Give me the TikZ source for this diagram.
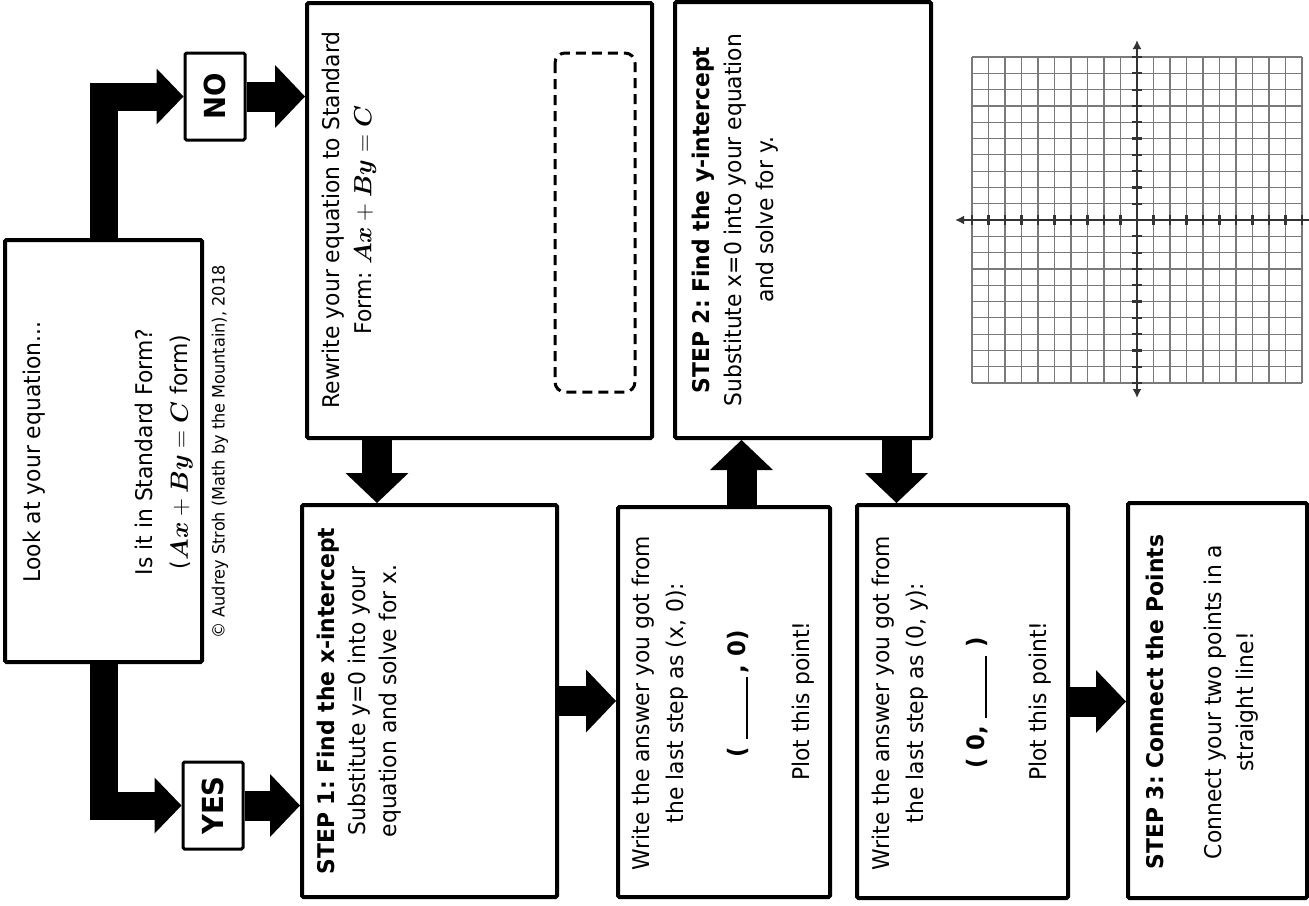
\documentclass[tikz,border=0pt]{standalone}
\usepackage{fontspec}
\setmainfont[FakeStretch=0.95]{DejaVu Sans}
\usepackage{bm}
\usetikzlibrary{arrows.meta}
\frenchspacing
\tikzset{
  box/.style={draw, line width=4pt, rounded corners=1.5pt, inner sep=0pt, fill=white},
  lab/.style={draw, line width=3pt, rounded corners=1.5pt, inner sep=0pt, fill=white,
    font=\fontsize{29}{29}\selectfont\bfseries, text=black},
  txt/.style={rotate=90, align=center, inner sep=0pt, font=\fontsize{23}{32}\selectfont},
  fat/.style={line width=30pt, line join=miter, -{Triangle[length=30pt,width=63pt,line width=0pt]}},
  fatL/.style={line width=28pt, line join=miter, -{Triangle[length=27pt,width=56pt,line width=0pt]}},
  gridline/.style={draw=black!52, line width=1.2pt},
  axis/.style={draw=black!80, line width=2.2pt},
  dashbox/.style={draw, line width=3pt, dash pattern=on 10pt off 6pt, rounded corners=10pt}
}
\begin{document}
\begin{tikzpicture}[x=1pt,y=-1pt]
\useasboundingbox (0,0) rectangle (1309,905);
% boxes
\node[box, minimum width=197pt, minimum height=422pt] (A) at (103.5,451) {};
\node[lab, minimum width=60pt, minimum height=87pt] (NO) at (215,96.5) {};
\node[lab, minimum width=60pt, minimum height=87pt] (YES) at (213,805.5) {};
\node[box, minimum width=345pt, minimum height=435pt] (R) at (479.5,220.5) {};
\node[box, minimum width=255pt, minimum height=392pt] (S1) at (429.5,701) {};
\node[box, minimum width=212pt, minimum height=390pt] (Q1) at (724,702) {};
\node[box, minimum width=256pt, minimum height=436pt] (S2) at (803,220) {};
\node[box, minimum width=211pt, minimum height=393pt] (Q2) at (962.5,701.5) {};
\node[box, minimum width=179pt, minimum height=395pt] (S3) at (1217.5,700.5) {};
\draw[dashbox] (555,53) rectangle (635,392);
% texts
\node[txt] (tA1) at (34,452) {Look at your equation...};
\node[txt, font=\fontsize{23}{35}\selectfont] (tA2) at (164,452) {Is it in Standard Form?\\($\bm{Ax}+\bm{By}=\bm{C}$ form)};
\node[txt, font=\fontsize{17}{19}\selectfont] (tC) at (220,452) {© Audrey Stroh (Math by the Mountain), 2018};
\node[lab, rotate=90, draw=none, fill=none] (tNO) at (NO) {NO};
\node[lab, rotate=90, draw=none, fill=none] (tYES) at (YES) {YES};
\node[txt] (tR) at (349,220) {Rewrite your equation to Standard\\Form: $\bm{Ax}+\bm{By}=\bm{C}$};
\node[txt, font=\fontsize{23}{31}\selectfont] (tS1) at (359,701) {\textbf{STEP 1: Find the x-intercept}\\Substitute y=0 into your\\equation and solve for x.};
\node[txt, font=\fontsize{23}{34}\selectfont] (tQ1) at (660,703) {Write the answer you got from\\the last step as (x, 0):};
\node[txt, font=\fontsize{24}{30}\selectfont\bfseries] (tQ1b) at (738,694) {( \rule[-3pt]{62pt}{2pt}\,, 0)};
\node[txt] (tQ1c) at (803,701) {Plot this point!};
\node[txt] (tS2) at (735,220) {\textbf{STEP 2: Find the y-intercept}\\Substitute x=0 into your equation\\and solve for y.};
\node[txt, font=\fontsize{23}{34}\selectfont] (tQ2) at (900,703) {Write the answer you got from\\the last step as (0, y):};
\node[txt, font=\fontsize{24}{30}\selectfont\bfseries] (tQ2b) at (977,703) {( 0, \rule[-3pt]{62pt}{2pt} )};
\node[txt] (tQ2c) at (1040,701) {Plot this point!};
\node[txt, font=\fontsize{23}{32}\selectfont\bfseries] (tS3a) at (1155,702) {STEP 3: Connect the Points};
\node[txt] (tS3b) at (1231,702) {Connect your two points in a\\straight line!};
% connectors
\draw[fatL] (A.north) |- (NO.west);
\draw[fat] (NO.east) -- (NO.east -| R.west);
\draw[fatL] (A.south) |- (YES.west);
\draw[fat] (YES.east) -- (YES.east -| S1.west);
\coordinate (rs) at ([xshift=72pt]R.south west);
\draw[fat] (rs) -- (rs |- S1.north);
\draw[fat] (S1.east) -- (S1.east -| Q1.west);
\coordinate (qs) at ([xshift=125.5pt]Q1.north west);
\draw[fat] (qs) -- (qs |- S2.south);
\coordinate (ss) at ([xshift=-36.5pt]S2.south east);
\draw[fat] (ss) -- (ss |- Q2.north);
\draw[fat] (Q2.east) -- (Q2.east -| S3.west);
% coordinate grid
\foreach \i in {0,...,20} {
  \draw[gridline] ({972+16.5*\i},57) -- ({972+16.5*\i},383);
  \draw[gridline] (972,{57+16.3*\i}) -- (1302,{57+16.3*\i});
}
\draw[axis, {Latex[length=9pt,width=9pt]}-] (955,220) -- (1309,220);
\draw[axis, {Latex[length=9pt,width=9pt]}-{Latex[length=9pt,width=9pt]}] (1137,40) -- (1137,398);
\foreach \i in {0,...,20} {
  \draw[axis] ({972+16.5*\i},215) -- ({972+16.5*\i},225);
  \draw[axis] (1132,{57+16.3*\i}) -- (1142,{57+16.3*\i});
}
\end{tikzpicture}
\end{document}
